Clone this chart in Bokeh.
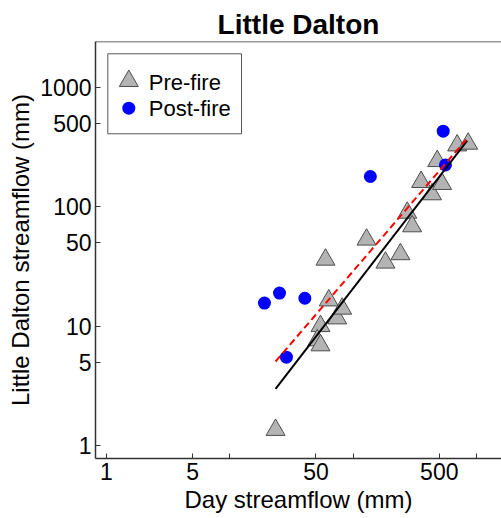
from bokeh.plotting import figure
from bokeh.models import Range1d, LinearScale, FixedTicker, Span
from bokeh.core.properties import value
from bokeh.embed import file_html
from bokeh.resources import INLINE

# Daily streamflow (mm): Day Creek (x) vs Little Dalton (y)
pre_day = [23.5, 59.7, 63.5, 54.4, 51.2, 54.4, 74.3, 81.5, 128.5, 183, 242,
           275, 301, 356, 437, 481, 527, 698, 857]
pre_dalton = [1.35, 36, 16.4, 10.0, 7.6, 6.9, 11.6, 14.0, 53, 34, 40,
              89, 68.5, 161, 127, 241, 155, 326, 337]

post_day = [19.1, 25.3, 40.6, 28.8, 138, 538, 561]
post_dalton = [15.6, 18.9, 17.1, 5.49, 179, 429, 224]

# Fitted relations (end points)
pre_fit_x = [23.5, 842]
pre_fit_y = [2.98, 358]
all_fit_x = [23.5, 826]
all_fit_y = [5.05, 365]

series_names = ["Pre-fire", "Post-fire"]

tick_values = [1, 5, 10, 50, 100, 500, 1000]
x_tick_labels = ["1", "5", "", "50", "", "500", ""]
y_tick_labels = ["1", "5", "10", "50", "100", "500", "1000"]

FONT = "Liberation Sans"
AXIS_COLOR = "#333333"
TRI_FILL = "#b4b4b4"
TRI_LINE = "#4d4d4d"
DOT_COLOR = "#0000ff"

FRAME_W, FRAME_H = 406, 417

p = figure(width=501, height=518, x_axis_type="log", y_axis_type="log",
           x_range=Range1d(0.814, 1598), y_range=Range1d(0.778, 2419),
           output_backend="svg", toolbar_location=None,
           min_border_left=95, min_border_right=0, min_border_top=41,
           min_border_bottom=60, title="Little Dalton")
p.outline_line_color = None
p.background_fill_color = "white"
p.border_fill_color = "white"
p.grid.visible = False

p.title.text_font = FONT
p.title.text_font_size = "28px"
p.title.text_font_style = "bold"
p.title.text_color = "black"
p.title.align = "center"
p.title.standoff = 3
p.title.offset = 2

for ax, labels, name in ((p.xaxis[0], x_tick_labels, "Day streamflow (mm)"),
                         (p.yaxis[0], y_tick_labels, "Little Dalton streamflow (mm)")):
    ax.ticker = FixedTicker(ticks=tick_values, minor_ticks=[])
    ax.major_label_overrides = {t: s for t, s in zip(tick_values, labels)}
    ax.axis_label = name
    ax.axis_label_text_font = FONT
    ax.axis_label_text_font_size = "24px"
    ax.axis_label_text_font_style = "normal"
    ax.axis_label_text_color = "black"
    ax.major_label_text_font = FONT
    ax.major_label_text_font_size = "23px"
    ax.major_label_text_color = "black"
    ax.major_tick_in = 5
    ax.major_tick_out = 0
    ax.minor_tick_in = 0
    ax.minor_tick_out = 0
    ax.axis_line_color = AXIS_COLOR
    ax.axis_line_width = 1.5
    ax.major_tick_line_color = AXIS_COLOR
    ax.major_tick_line_width = 1
    ax.major_label_standoff = 4
    ax.axis_label_standoff = 3

# Top border of the frame
p.extra_x_ranges = {"lg": Range1d(0, FRAME_W)}
p.extra_y_ranges = {"lg": Range1d(FRAME_H, 0)}
p.extra_x_scales = {"lg": LinearScale()}
p.extra_y_scales = {"lg": LinearScale()}
p.add_layout(Span(location=0, dimension="width", y_range_name="lg",
                  x_range_name="lg", line_color=AXIS_COLOR, line_width=1.5))

# Observations
p.scatter(pre_day, pre_dalton, marker="triangle", size=19,
          fill_color=TRI_FILL, line_color=TRI_LINE, line_width=1)
p.scatter(post_day, post_dalton, marker="circle", size=13,
          fill_color=DOT_COLOR, line_color=None)

# Fit lines
p.line(pre_fit_x, pre_fit_y, line_color="black", line_width=2)
p.line(all_fit_x, all_fit_y, line_color="red", line_width=2, line_dash="7 4")

# Legend box drawn in frame pixel space
p.quad(left=[12.3], right=[146], top=[12.3], bottom=[92.3],
       x_range_name="lg", y_range_name="lg",
       fill_color="white", line_color="#555555", line_width=1)
p.scatter([33.3], [39.5], marker="triangle", size=19,
          fill_color=TRI_FILL, line_color=TRI_LINE, line_width=1,
          x_range_name="lg", y_range_name="lg")
p.scatter([33.3], [66.7], marker="circle", size=13,
          fill_color=DOT_COLOR, line_color=None,
          x_range_name="lg", y_range_name="lg")
p.text(x=[53.3, 53.3], y=[40.5, 67.2], text=series_names,
       text_font=value(FONT), text_font_size="22px", text_color="black",
       text_baseline="alphabetic", text_align="left",
       x_range_name="lg", y_range_name="lg")

open("out.html", "w").write(file_html(p, INLINE))
